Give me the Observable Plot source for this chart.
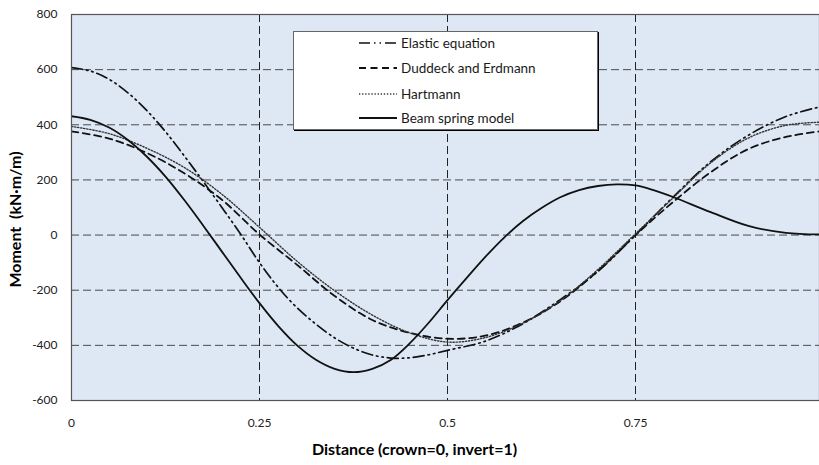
<!DOCTYPE html>
<html>
<head>
<meta charset="utf-8">
<script src="https://cdn.jsdelivr.net/npm/d3@7"></script>
<script src="https://cdn.jsdelivr.net/npm/@observablehq/plot@0.6"></script>
<style>
  html, body { margin: 0; padding: 0; background: #fff; overflow: hidden; }
  #wrap { position: relative; width: 819px; height: 465px; font-family: Lato, "Open Sans", sans-serif; }
  #wrap svg { overflow: hidden; }
  #legend { position: absolute; left: 293px; top: 31px; width: 305px; height: 99px; background: #fff;
            border: 1px solid #666; box-shadow: 1px 1px 0 #000; box-sizing: border-box; }
  #legend .row { position: absolute; left: 65px; height: 20px; display: flex; align-items: center; font-size: 13.5px; color: #1a1a1a; white-space: nowrap; }
  #legend svg { margin-right: 4px; }
</style>
</head>
<body>
<div id="wrap"></div>
<script>
// ---- data ----
const seriesNames = ["Elastic equation", "Duddeck and Erdmann", "Hartmann", "Beam spring model"];
const xTitle = "Distance (crown=0, invert=1)";
const yTitle = "Moment  (kN·m/m)";

const elasticX = [0, 0.025, 0.05, 0.075, 0.1, 0.125, 0.15, 0.175, 0.2, 0.225, 0.25, 0.275, 0.3, 0.325, 0.35, 0.375, 0.4, 0.425, 0.45, 0.475, 0.5, 0.55, 0.6, 0.65, 0.7, 0.75, 0.8, 0.85, 0.9, 0.95, 1.0];
const elasticY = [607, 595, 565, 516, 452, 375, 287, 195, 100, 3, -100, -190, -264, -323, -373, -410, -435, -446, -445, -434, -418, -385, -322, -234, -132, 0, 138, 266, 362, 430, 468];

const duddeckX = [0, 0.05, 0.1, 0.15, 0.2, 0.25, 0.3, 0.35, 0.4, 0.45, 0.5, 0.55, 0.6, 0.65, 0.7, 0.75, 0.8, 0.85, 0.9, 0.95, 1.0];
const duddeckY = [376, 350, 298, 224, 128, 2, -108, -221, -308, -355, -376, -365, -318, -240, -130, 0, 120, 228, 312, 356, 378];

const hartmannX = [0, 0.05, 0.1, 0.15, 0.2, 0.25, 0.3, 0.35, 0.4, 0.45, 0.5, 0.55, 0.6, 0.65, 0.7, 0.75, 0.8, 0.85, 0.9, 0.95, 1.0];
const hartmannY = [394, 368, 315, 245, 148, 28, -95, -202, -290, -355, -388, -372, -320, -238, -125, 5, 135, 262, 352, 398, 410];

const beamX = [0, 0.025, 0.05, 0.075, 0.1, 0.125, 0.15, 0.175, 0.2, 0.225, 0.25, 0.275, 0.3, 0.325, 0.35, 0.375, 0.4, 0.425, 0.45, 0.475, 0.5, 0.525, 0.55, 0.575, 0.6, 0.625, 0.65, 0.675, 0.7, 0.725, 0.75, 0.775, 0.8, 0.85, 0.9, 0.95, 1.0];
const beamY = [431, 418, 390, 345, 285, 212, 127, 35, -60, -155, -247, -330, -400, -452, -485, -497, -485, -452, -392, -318, -236, -157, -80, -10, 50, 98, 137, 163, 178, 184, 180, 162, 138, 83, 33, 8, 2];

const xTicks = [0, 0.25, 0.5, 0.75];
const xTickLabels = ["0", "0.25", "0.5", "0.75"];
const yTicks = [-600, -400, -200, 0, 200, 400, 600, 800];
const yGrid = [-400, -200, 0, 200, 400, 600];

// ---- styles per series ----
const styles = [
  {dash: "11,4,1.5,4,1.5,4", width: 1.7, color: "#111"},
  {dash: "7,4.5", width: 1.8, color: "#111"},
  {dash: "1.3,1.8", width: 1.4, color: "#333"},
  {dash: null, width: 1.8, color: "#111"}
];

const toRows = (xs, ys) => xs.map((x, i) => ({x, y: ys[i]}));
const series = [toRows(elasticX, elasticY), toRows(duddeckX, duddeckY), toRows(hartmannX, hartmannY), toRows(beamX, beamY)];

const chart = Plot.plot({
  width: 819,
  height: 465,
  marginLeft: 71,
  marginTop: 14,
  marginBottom: 65,
  marginRight: 0,
  style: {fontFamily: "Lato, 'Open Sans', sans-serif", fontSize: "12px", color: "#222", background: "transparent"},
  x: {domain: [0, 1], range: [71, 823], label: null},
  y: {domain: [-600, 800], range: [400, 14], label: null},
  marks: [
    Plot.frame({fill: "#dee8f5", stroke: null}),
    Plot.ruleY(yGrid, {stroke: "#4a4a4a", strokeWidth: 1, strokeDasharray: "8,4"}),
    Plot.ruleX(xTicks.slice(1), {stroke: "#222", strokeWidth: 1, strokeDasharray: "8,4"}),
    ...series.map((d, i) => Plot.line(d, {
      x: "x", y: "y", curve: "catmull-rom",
      stroke: styles[i].color, strokeWidth: styles[i].width,
      strokeDasharray: styles[i].dash || undefined, clip: true
    })),
    Plot.frame({stroke: "#555", strokeWidth: 1.2}),
    Plot.axisX(xTicks, {tickSize: 0, tickPadding: 18, tickFormat: d => xTickLabels[xTicks.indexOf(d)], label: null, fontSize: 12}),
    Plot.axisY(yTicks, {tickSize: 0, tickPadding: 14, tickFormat: d => String(d), label: null, fontSize: 12}),
    Plot.text([xTitle], {frameAnchor: "bottom", dy: 54, dx: -31, fontWeight: "bold", fontSize: 16, fill: "#000"}),
    Plot.text([yTitle], {frameAnchor: "left", textAnchor: "middle", rotate: -90, dx: -56, dy: 12, fontWeight: "bold", fontSize: 16, fill: "#000"})
  ]
});

const wrap = document.getElementById("wrap");
wrap.appendChild(chart);

// legend
const legend = document.createElement("div");
legend.id = "legend";
const rowTops = [1, 26, 52, 76];
seriesNames.forEach((name, i) => {
  const row = document.createElement("div");
  row.className = "row";
  row.style.top = rowTops[i] + "px";
  const s = styles[i];
  row.innerHTML = `<svg width="38" height="6"><line x1="0" y1="3" x2="38" y2="3" stroke="${s.color}" stroke-width="${s.width}" ${s.dash ? `stroke-dasharray="${s.dash}"` : ""}/></svg><span>${name}</span>`;
  legend.appendChild(row);
});
wrap.appendChild(legend);
</script>
</body>
</html>
